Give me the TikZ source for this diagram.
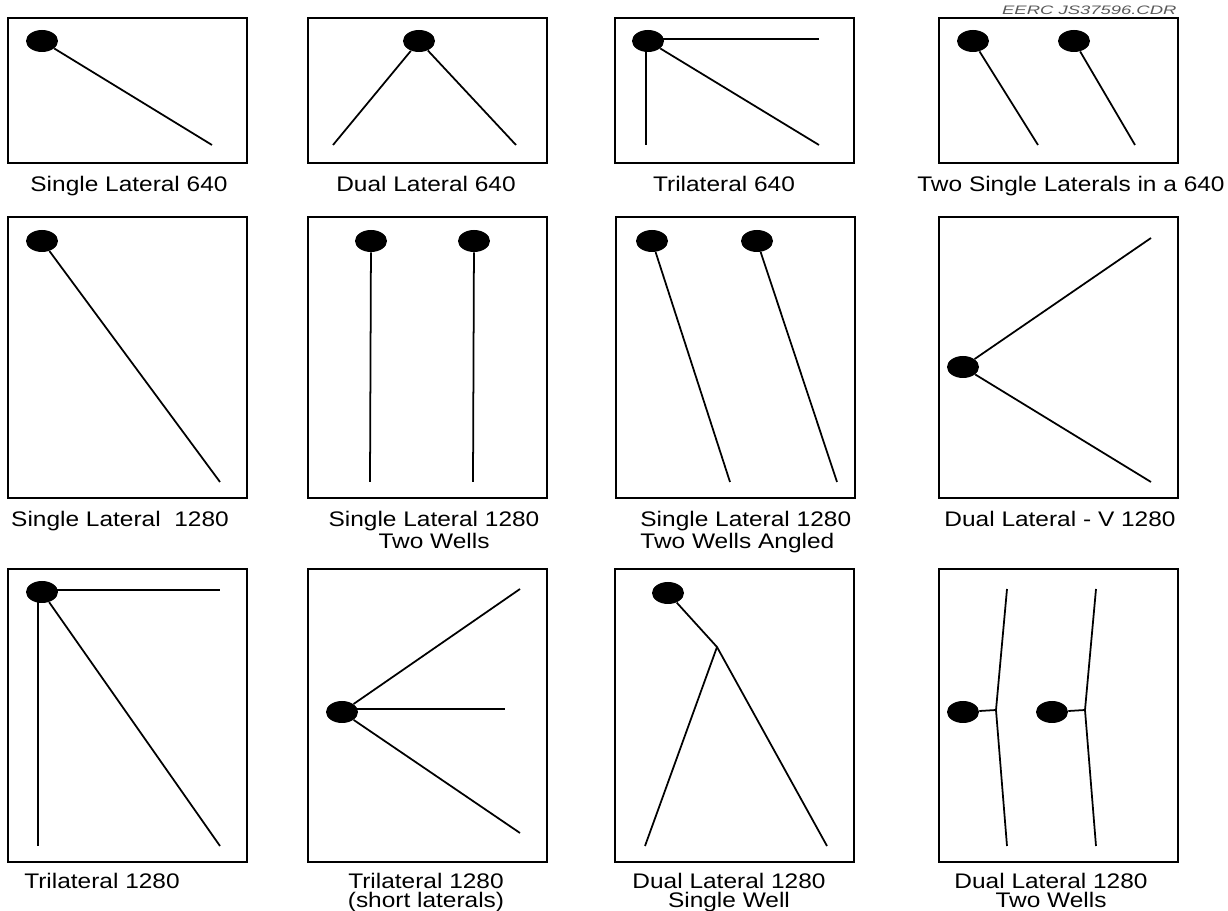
\documentclass[tikz,border=0pt]{standalone}
\usepackage{fontspec}
\setmainfont{Liberation Sans}
\usetikzlibrary{shapes.geometric}
\tikzset{
  frame/.style={draw,line width=1.3pt},
  lat/.style={line width=1pt},
  well/.style={ellipse,fill=black,inner sep=0pt,minimum width=0.64cm,minimum height=0.44cm},
  lbl/.style={inner sep=0pt,anchor=north,align=center,xscale=1.16,
    font=\fontsize{12}{11}\selectfont},
}
\begin{document}
\begin{tikzpicture}[x=0.02cm,y=-0.02cm]
  \useasboundingbox (0,0) rectangle (1228,911);
  \node[inner sep=0pt,anchor=north east,xscale=1.5,text=black!65,
    font=\fontsize{7}{8}\selectfont\itshape] (tag) at (1177,6) {EERC JS37596.CDR};
  % 640 row
  \draw[frame] (8,18) rectangle (247,163);
  \draw[frame] (308,18) rectangle (547,163);
  \draw[frame] (615,18) rectangle (854,163);
  \draw[frame] (939,18) rectangle (1178,163);
  \node[well] (w11) at (42,41) {};
  \coordinate (e11) at (212,145);
  \draw[lat] (w11) -- (e11);
  \node[well] (w12) at (419,41) {};
  \coordinate (e12a) at (333,145);
  \coordinate (e12b) at (516,145);
  \draw[lat] (e12a) -- (w12) -- (e12b);
  \node[well] (w13) at (648,41) {};
  \coordinate (h13) at (819,39);
  \coordinate (v13) at (646,145);
  \coordinate (d13) at (819,145);
  \draw[lat] (w13 |- h13) -- (h13);
  \draw[lat] (v13 |- w13) -- (v13);
  \draw[lat] (w13) -- (d13);
  \node[well] (w14a) at (973,41) {};
  \node[well] (w14b) at (1074,41) {};
  \coordinate (e14a) at (1038,145);
  \coordinate (e14b) at (1135,145);
  \draw[lat] (w14a) -- (e14a);
  \draw[lat] (w14b) -- (e14b);
  \node[lbl] (l11) at (129,176) {Single Lateral 640};
  \node[lbl] (l12) at (426,176) {Dual Lateral 640};
  \node[lbl] (l13) at (724,176) {Trilateral 640};
  \node[lbl] (l14) at (1071,176) {Two Single Laterals in a 640};
  % 1280 row
  \draw[frame] (8,217) rectangle (247,498);
  \draw[frame] (308,217) rectangle (547,498);
  \draw[frame] (616,217) rectangle (855,498);
  \draw[frame] (939,217) rectangle (1178,498);
  \node[well] (w21) at (42,241) {};
  \coordinate (e21) at (220,482);
  \draw[lat] (w21) -- (e21);
  \node[well] (w22a) at (371,241) {};
  \node[well] (w22b) at (474,241) {};
  \coordinate (e22a) at (370,482);
  \coordinate (e22b) at (473,482);
  \draw[lat] (w22a) -- (e22a);
  \draw[lat] (w22b) -- (e22b);
  \node[well] (w23a) at (652,241) {};
  \node[well] (w23b) at (757,241) {};
  \coordinate (e23a) at (730,482);
  \coordinate (e23b) at (837,482);
  \draw[lat] (w23a) -- (e23a);
  \draw[lat] (w23b) -- (e23b);
  \node[well] (w24) at (963,367) {};
  \coordinate (e24a) at (1151,238);
  \coordinate (e24b) at (1151,482);
  \draw[lat] (e24a) -- (w24) -- (e24b);
  \node[lbl] (l21) at (120,511) {Single Lateral~~1280};
  \node[lbl] (l22) at (434,511) {Single Lateral 1280\\Two Wells};
  \node[lbl,anchor=north west,align=left] (l23) at (640,511) {Single Lateral 1280\\Two Wells Angled};
  \node[lbl] (l24) at (1060,511) {Dual Lateral - V 1280};
  % 1280 row, more laterals
  \draw[frame] (8,569) rectangle (247,862);
  \draw[frame] (308,569) rectangle (547,862);
  \draw[frame] (615,569) rectangle (854,862);
  \draw[frame] (939,569) rectangle (1178,862);
  \node[well] (w31) at (42,592) {};
  \coordinate (h31) at (220,590);
  \coordinate (v31) at (38,846);
  \coordinate (d31) at (220,846);
  \draw[lat] (w31 |- h31) -- (h31);
  \draw[lat] (v31 |- w31) -- (v31);
  \draw[lat] (w31) -- (d31);
  \node[well] (w32) at (342,712) {};
  \coordinate (e32a) at (520,589);
  \coordinate (h32) at (505,709);
  \coordinate (e32b) at (520,833);
  \draw[lat] (e32a) -- (w32) -- (e32b);
  \draw[lat] (w32 |- h32) -- (h32);
  \node[well] (w33) at (668,593) {};
  \coordinate (j33) at (717,647);
  \coordinate (e33a) at (645,846);
  \coordinate (e33b) at (827,846);
  \draw[lat] (w33) -- (j33) -- (e33b);
  \draw[lat] (j33) -- (e33a);
  \node[well] (w34a) at (963,712) {};
  \node[well] (w34b) at (1052,712) {};
  \coordinate (j34a) at (996,710);
  \coordinate (j34b) at (1085,710);
  \coordinate (t34a) at (1007,589);
  \coordinate (t34b) at (1096,589);
  \coordinate (b34a) at (1007,846);
  \coordinate (b34b) at (1096,846);
  \draw[lat] (w34a) -- (j34a);
  \draw[lat] (w34b) -- (j34b);
  \draw[lat] (t34a) -- (j34a) -- (b34a);
  \draw[lat] (t34b) -- (j34b) -- (b34b);
  \node[lbl] (l31) at (102,873) {Trilateral 1280};
  \node[lbl] (l32) at (426,873) {Trilateral 1280\\(short laterals)};
  \node[lbl] (l33) at (729,873) {Dual Lateral 1280\\Single Well};
  \node[lbl] (l34) at (1051,873) {Dual Lateral 1280\\Two Wells};
\end{tikzpicture}
\end{document}
